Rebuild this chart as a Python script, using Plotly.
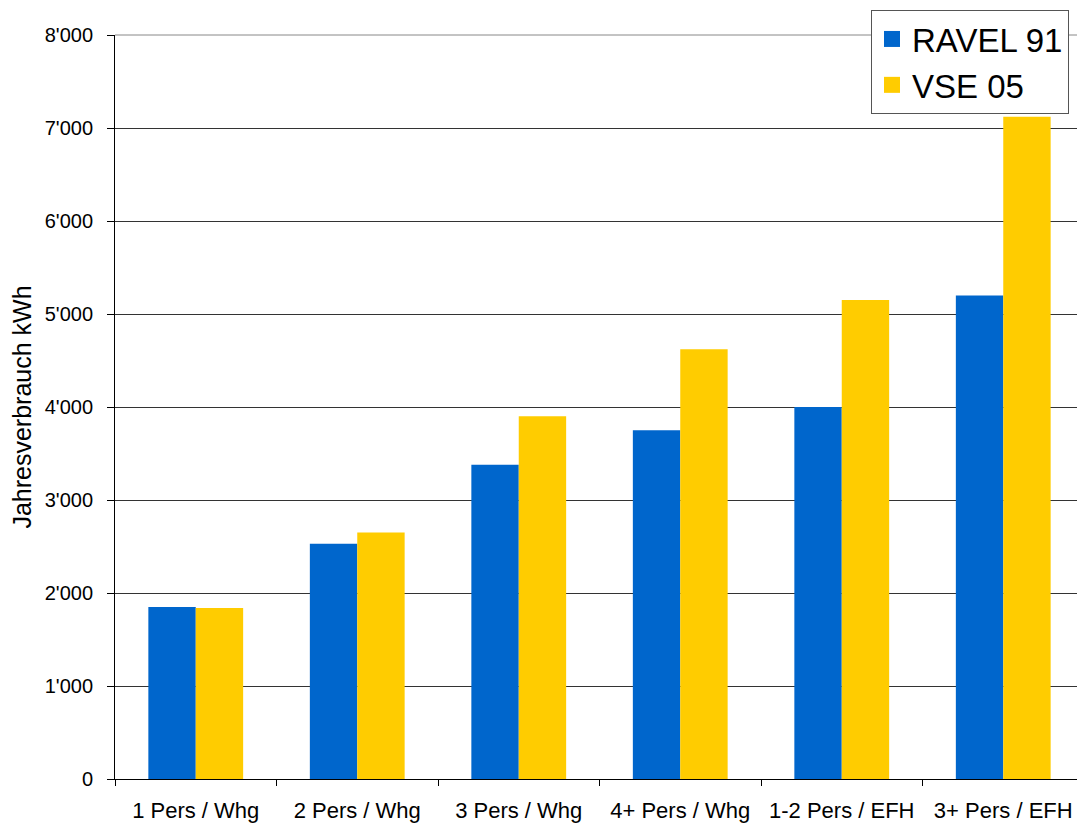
import plotly.graph_objects as go

categories = ["1 Pers / Whg", "2 Pers / Whg", "3 Pers / Whg", "4+ Pers / Whg", "1-2 Pers / EFH", "3+ Pers / EFH"]
ravel91 = [1850, 2530, 3380, 3750, 4000, 5200]
vse05 = [1840, 2650, 3900, 4620, 5150, 7120]
series_names = ["RAVEL 91", "VSE 05"]
colors = ["#0066CC", "#FFCC00"]

fig = go.Figure()
for name, vals, col in zip(series_names, [ravel91, vse05], colors):
    fig.add_trace(go.Bar(x=categories, y=vals, name=name, marker=dict(color=col, line=dict(width=0)),
                         showlegend=False))
# legend entries with larger square symbols
for name, col in zip(series_names, colors):
    fig.add_trace(go.Scatter(x=[None], y=[None], mode="markers", name=name,
                             marker=dict(symbol="square", size=21, color=col)))

font_family = "Liberation Sans, Arial, sans-serif"
# plot area in page pixels: x 115..1084, y 35..779 (page has 8px body margin)
PX0, PX1, PY0, PY1 = 115, 1084, 35, 779
def px(x):
    return (x - PX0) / (PX1 - PX0)
def py(y):
    return (PY1 - y) / (PY1 - PY0)

fig.update_layout(
    width=1077, height=815,
    margin=dict(l=107, r=1, t=27, b=44),
    paper_bgcolor="white", plot_bgcolor="white",
    barmode="group", bargap=0.413, bargroupgap=0,
    separators=".'",
    font=dict(family=font_family, color="black"),
    legend=dict(x=px(871), y=py(10), xanchor="left", yanchor="top",
                bgcolor="white", bordercolor="#555", borderwidth=1,
                entrywidth=165, entrywidthmode="pixels",
                font=dict(size=33, family=font_family, color="black")),
    showlegend=True,
)
fig.update_xaxes(
    type="category", showline=True, linecolor="black", linewidth=1,
    ticks="outside", tickson="boundaries", ticklen=6, tickcolor="black",
    tickfont=dict(size=22, family=font_family), showgrid=False,
    ticklabelstandoff=12, automargin=False,
)
fig.update_yaxes(
    range=[0, 8000], dtick=1000, tickformat=",d",
    showline=True, linecolor="black", linewidth=1,
    ticks="outside", ticklen=7, tickcolor="black",
    tickfont=dict(size=20, family=font_family),
    showgrid=True, gridcolor="#333", gridwidth=1, zeroline=False,
    ticklabelstandoff=10, automargin=False,
    title=dict(text="Jahresverbrauch kWh", font=dict(size=25, family=font_family), standoff=7),
)
# right and top border of plot area
fig.add_shape(type="line", xref="paper", yref="paper", x0=1, x1=1, y0=0, y1=1,
              line=dict(color="#888", width=1))
fig.add_shape(type="line", xref="paper", yref="paper", x0=0, x1=1, y0=1, y1=1,
              line=dict(color="#888", width=1))

fig.write_html("out.html")
